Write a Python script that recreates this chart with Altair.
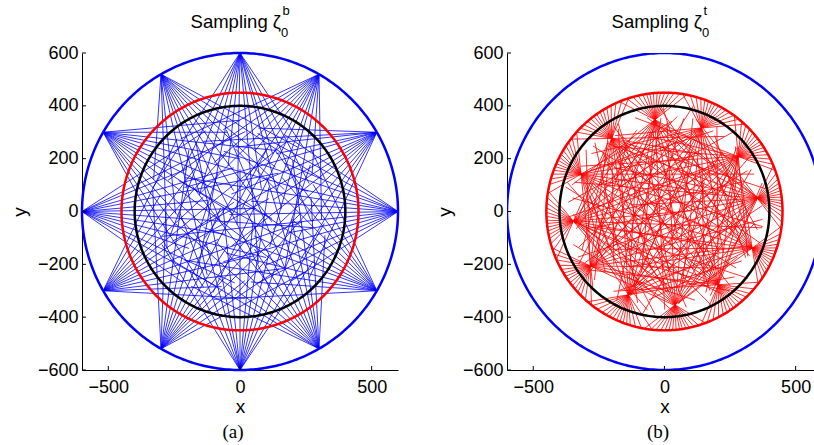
import math
import altair as alt
import pandas as pd
import numpy as np

# ---------------- data ----------------
circle_names = ["blue", "red", "black"]
circle_radii = [600, 450, 400]
circle_colors = ["#0000ff", "#ff0000", "#000000"]

# Left panel: sources on the blue circle
left_source_radius = 600
left_source_angles = [0, 30, 60, 90, 120, 150, 180, 210, 240, 270, 300, 330]
left_offsets = [
    [-34, -29, -23, -19, -13, -9, -4, 1, 6, 11, 16, 22, 27, 33],
    [-32, -27, -24, -18, -14, -7, -2, 3, 8, 13, 19, 24, 29, 35],
    [-35, -30, -25, -20, -15, -10, -5, 0, 4, 10, 14, 20, 26, 31],
    [-33, -26, -21, -16, -11, -6, -1, 5, 9, 15, 18, 23, 28, 34],
    [-34, -28, -24, -17, -12, -8, -3, 2, 7, 12, 17, 21, 27, 32],
    [-31, -27, -22, -18, -13, -7, -2, 3, 8, 14, 19, 24, 30, 35],
    [-35, -29, -25, -19, -14, -9, -4, 1, 5, 11, 16, 22, 26, 33],
    [-33, -28, -23, -17, -11, -6, -1, 4, 9, 13, 18, 23, 29, 34],
    [-32, -26, -21, -16, -12, -8, -3, 2, 7, 12, 17, 22, 28, 33],
    [-34, -30, -24, -19, -14, -9, -5, 0, 6, 11, 15, 21, 27, 32],
    [-33, -27, -22, -18, -13, -7, -2, 3, 8, 14, 19, 25, 29, 34],
    [-35, -29, -24, -20, -15, -10, -4, 1, 6, 10, 16, 21, 26, 33],
]
left_lengths = [
    [520, 610, 470, 700, 380, 820, 560, 640, 900, 430, 690, 540, 600, 480],
    [450, 660, 540, 390, 760, 600, 880, 470, 700, 540, 820, 420, 560, 610],
    [580, 420, 700, 520, 640, 380, 760, 590, 920, 470, 680, 750, 380, 550],
    [610, 490, 740, 560, 860, 430, 650, 800, 520, 610, 400, 690, 560, 430],
    [400, 660, 530, 780, 470, 600, 940, 520, 700, 360, 640, 560, 730, 590],
    [560, 700, 450, 620, 520, 860, 580, 720, 420, 810, 530, 660, 470, 520],
    [470, 580, 640, 430, 720, 550, 880, 660, 480, 760, 600, 430, 690, 560],
    [540, 450, 690, 590, 800, 480, 720, 600, 900, 520, 700, 580, 420, 640],
    [620, 540, 410, 740, 560, 650, 470, 860, 580, 700, 450, 760, 520, 600],
    [500, 640, 580, 820, 450, 700, 560, 760, 620, 880, 500, 640, 420, 560],
    [430, 570, 720, 500, 680, 900, 610, 450, 780, 560, 720, 470, 650, 540],
    [600, 470, 660, 560, 760, 420, 640, 860, 510, 700, 590, 740, 480, 620],
]

# Right panel: focal points inside the red circle, rays start on the red circle
right_start_radius = 450
right_focal_angles = [8, 36.5, 66, 96, 126, 156, 186, 216, 246.5, 276.5, 306.5, 337.5]
right_focal_radii = [358, 350, 346, 349, 342, 348, 349, 350, 344, 356, 345, 362]
right_offsets = [
    [-60, -52, -44, -36, -28, -20, -13, -5, 2, 10, 18, 27, 35, 45, 56],
    [-57, -49, -41, -33, -25, -17, -9, -2, 6, 14, 22, 31, 40, 48, 59],
    [-61, -53, -45, -37, -30, -22, -14, -6, 1, 9, 17, 25, 34, 43, 53],
    [-58, -50, -42, -34, -26, -18, -11, -3, 5, 12, 20, 29, 38, 47, 57],
    [-59, -51, -43, -35, -27, -19, -12, -4, 3, 11, 19, 28, 36, 44, 55],
    [-60, -52, -45, -38, -29, -21, -14, -7, 1, 8, 16, 24, 33, 42, 54],
    [-56, -48, -40, -32, -24, -16, -8, -1, 7, 15, 23, 30, 39, 49, 60],
    [-61, -54, -46, -37, -29, -21, -13, -5, 4, 12, 21, 29, 37, 46, 56],
    [-57, -50, -42, -33, -25, -18, -10, -2, 6, 13, 20, 27, 36, 45, 58],
    [-59, -51, -44, -36, -28, -20, -12, -4, 4, 11, 19, 26, 35, 43, 53],
    [-60, -53, -45, -36, -27, -19, -11, -3, 5, 13, 21, 30, 38, 47, 57],
    [-58, -49, -41, -34, -26, -18, -10, -2, 7, 15, 23, 31, 40, 49, 59],
]
right_lengths = [
    [380, 300, 520, 430, 610, 560, 700, 480, 650, 720, 420, 590, 360, 500, 410],
    [420, 350, 480, 600, 520, 690, 430, 710, 560, 640, 700, 450, 530, 300, 380],
    [330, 430, 500, 580, 380, 650, 710, 540, 690, 460, 620, 600, 480, 520, 440],
    [400, 260, 510, 620, 470, 700, 580, 720, 450, 680, 560, 630, 400, 530, 360],
    [350, 440, 540, 480, 630, 520, 700, 610, 720, 400, 690, 560, 620, 350, 430],
    [430, 380, 300, 600, 560, 710, 480, 690, 580, 720, 520, 660, 450, 530, 400],
    [440, 520, 470, 630, 700, 560, 720, 450, 660, 600, 710, 380, 560, 420, 330],
    [360, 420, 540, 500, 620, 680, 420, 700, 640, 560, 720, 600, 480, 510, 440],
    [410, 450, 360, 610, 560, 720, 650, 520, 700, 680, 470, 630, 590, 400, 370],
    [300, 430, 520, 590, 640, 480, 710, 690, 560, 720, 640, 510, 620, 470, 450],
    [420, 340, 530, 600, 480, 700, 560, 720, 650, 470, 690, 620, 380, 500, 400],
    [390, 450, 500, 640, 580, 650, 720, 430, 710, 600, 540, 470, 530, 440, 350],
]

x_tick_values = [-500, 0, 500]
y_tick_values = [-600, -400, -200, 0, 200, 400, 600]

# ---------------- geometry ----------------
def left_rays():
    rows = []
    for th, offs, lens in zip(left_source_angles, left_offsets, left_lengths):
        t = math.radians(th)
        sx, sy = left_source_radius * math.cos(t), left_source_radius * math.sin(t)
        for o, L in zip(offs, lens):
            a = t + math.pi + math.radians(o)
            rows.append(dict(x=sx, y=sy, x2=sx + L * math.cos(a), y2=sy + L * math.sin(a)))
    return pd.DataFrame(rows)


def right_rays():
    rows = []
    for th, r, offs, lens in zip(right_focal_angles, right_focal_radii, right_offsets, right_lengths):
        t = math.radians(th)
        fx, fy = r * math.cos(t), r * math.sin(t)
        for o, L in zip(offs, lens):
            a = t + math.pi + math.radians(o)
            dx, dy = math.cos(a), math.sin(a)
            u = fx * dx + fy * dy
            s = u + math.sqrt(u * u - r * r + right_start_radius ** 2)
            rows.append(dict(x=fx - s * dx, y=fy - s * dy, x2=fx + L * dx, y2=fy + L * dy))
    return pd.DataFrame(rows)


def circles():
    rows = []
    ang = np.linspace(0, 2 * np.pi, 361)
    for name, rad in zip(circle_names, circle_radii):
        for i, a in enumerate(ang):
            rows.append(dict(name=name, i=i, x=rad * np.cos(a), y=rad * np.sin(a)))
    return pd.DataFrame(rows)


circ_df = circles()
xt_df = pd.DataFrame({"x": x_tick_values})
yt_df = pd.DataFrame({"y": y_tick_values})

FONT = "Liberation Sans"
H = 317


def panel(rays_df, ray_color, xdomain, width, sup, title_right, label, clip):
    xs = alt.Scale(domain=xdomain, nice=False, zero=False)
    ys = alt.Scale(domain=[-600, 600], nice=False, zero=False)
    zero_px = width * (0 - xdomain[0]) / (xdomain[1] - xdomain[0])
    xaxis = alt.Axis(values=x_tick_values, title="x", titleX=zero_px, titleY=42,
                     titleBaseline="alphabetic", titleAlign="center", labelPadding=8)
    yaxis = alt.Axis(values=y_tick_values, title="y", titleX=-57, titleY=H / 2,
                     titleBaseline="alphabetic", titleAlign="center", titleAngle=270,
                     labelPadding=4)
    rays = alt.Chart(rays_df).mark_rule(color=ray_color, strokeWidth=0.8, clip=clip).encode(
        x=alt.X("x:Q", scale=xs, axis=xaxis),
        y=alt.Y("y:Q", scale=ys, axis=yaxis),
        x2="x2:Q", y2="y2:Q",
    )
    circ = alt.Chart(circ_df).mark_line(strokeWidth=2.5, clip=clip).encode(
        x="x:Q", y="y:Q",
        color=alt.Color("name:N", scale=alt.Scale(domain=circle_names, range=circle_colors), legend=None),
        detail="name:N",
        order="i:Q",
    )
    xt = alt.Chart(xt_df).mark_rule(color="black", strokeWidth=1).encode(
        x="x:Q", y=alt.value(H), y2=alt.value(H - 4))
    yt = alt.Chart(yt_df).mark_rule(color="black", strokeWidth=1).encode(
        y="y:Q", x=alt.value(0), x2=alt.value(4))
    t_main = alt.Chart(pd.DataFrame({"t": ["Sampling \u03b6"]})).mark_text(
        align="right", baseline="alphabetic", font=FONT, fontSize=18.5, color="black").encode(
        text="t:N", x=alt.value(title_right), y=alt.value(-25))
    t_sup = alt.Chart(pd.DataFrame({"t": [sup]})).mark_text(
        align="left", baseline="alphabetic", font=FONT, fontSize=13, color="black").encode(
        text="t:N", x=alt.value(title_right + 1.5), y=alt.value(-38))
    t_sub = alt.Chart(pd.DataFrame({"t": ["0"]})).mark_text(
        align="left", baseline="alphabetic", font=FONT, fontSize=13, color="black").encode(
        text="t:N", x=alt.value(title_right), y=alt.value(-16))
    t_lab = alt.Chart(pd.DataFrame({"t": [label]})).mark_text(
        align="center", baseline="alphabetic", font="Liberation Serif", fontSize=19, color="black").encode(
        text="t:N", x=alt.value(151), y=alt.value(385))
    return alt.layer(rays, circ, xt, yt, t_main, t_sup, t_sub, t_lab).properties(width=width, height=H)


left = panel(left_rays(), "#0000ff", [-600, 600], 316, "b", 199, "(a)", False)
right = panel(right_rays(), "#ff0000", [-600, 570], 307, "t", 195, "(b)", True)

chart = alt.hconcat(left, right, spacing=109, bounds="flush").configure(
    padding={"left": 10, "top": 5, "right": 0, "bottom": 0},
    background="white",
).configure_view(stroke=None).configure_axis(
    labelFont=FONT, labelFontSize=18, labelColor="black",
    titleFont=FONT, titleFontSize=19, titleColor="black", titleFontWeight="normal",
    domainColor="black", domainWidth=1, ticks=False, tickSize=0, grid=False,
)

chart.save("out.html", embed_options={"renderer": "svg", "actions": False})
